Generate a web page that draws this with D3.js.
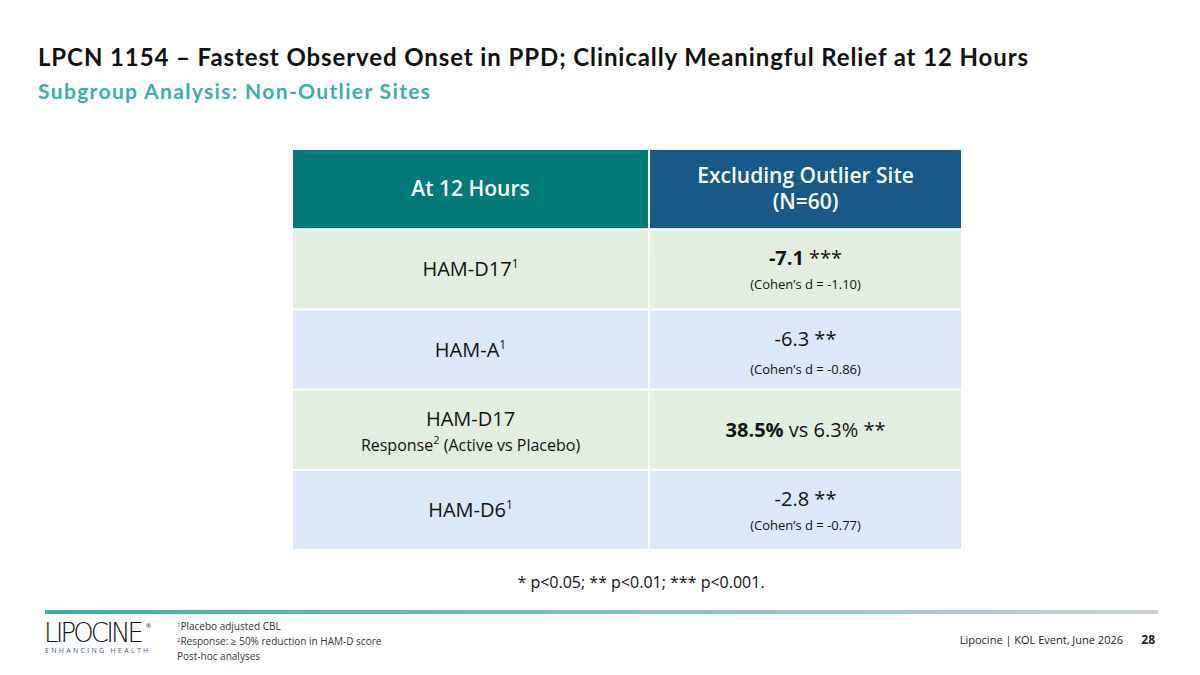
<!DOCTYPE html>
<html><head><meta charset="utf-8">
<script src="https://cdn.jsdelivr.net/npm/d3@7"></script>
<style>body{margin:0;background:#fff}svg{display:block;font-family:"Open Sans","Noto Sans",sans-serif}</style>
</head><body><svg id="slide" width="1200" height="675"></svg>
<script>
const svg = d3.select("#slide");

const HEADERS = ["At 12 Hours", "Excluding Outlier Site|(N=60)"];
const MEASURES = ["HAM-D17", "HAM-A", "HAM-D17", "HAM-D6"];
const MEASURE_SUP = ["1", "1", "", "1"];
const MEASURE_SUB = ["", "", "Response", ""];
const VALUES = ["-7.1", "-6.3", "38.5%", "-2.8"];
const VALUE_BOLD = [true, false, true, false];
const VALUE_TAIL = [" ***", " **", " vs 6.3% **", " **"];
const COHENS_D = ["-1.10", "-0.86", null, "-0.77"];

const HEADER_FILL = ["#007b78", "#175a89"];
const ROW_FILL = ["#e2eee0", "#dae8f8"];
const COL_EDGES = [0, 0.533, 1];

svg.append("text").attr("x", 38).attr("y", 66).attr("font-size", 24).attr("font-weight", 700)
  .attr("fill", "#111").attr("font-family", "Lato, sans-serif").attr("textLength", 990)
  .text("LPCN 1154 – Fastest Observed Onset in PPD; Clinically Meaningful Relief at 12 Hours");
svg.append("text").attr("x", 38).attr("y", 99).attr("font-size", 21).attr("font-weight", 700)
  .attr("fill", "#3aafa9").attr("font-family", "Lato, sans-serif").attr("textLength", 392)
  .text("Subgroup Analysis: Non-Outlier Sites");

const x = d3.scaleLinear().domain([0, 1]).range([293, 961]);
const colX = c => x(COL_EDGES[c]) + (c ? 1 : 0);
const colW = c => x(COL_EDGES[c + 1]) - x(COL_EDGES[c]) - 1;
const colC = c => colX(c) + colW(c) / 2;
const y = d3.scaleBand().domain(d3.range(5)).range([150, 549]).paddingInner(0.025);

const g = svg.append("g");
HEADERS.forEach((h, i) => {
  g.append("rect").attr("x", colX(i)).attr("y", y(0)).attr("width", colW(i)).attr("height", y.bandwidth()).attr("fill", HEADER_FILL[i]);
  const lines = h.split("|");
  const cy = y(0) + y.bandwidth() / 2;
  lines.forEach((l, k) => {
    g.append("text").attr("x", colC(i))
      .attr("y", cy + (k - (lines.length - 1) / 2) * 26 + 7)
      .attr("text-anchor", "middle").attr("fill", "#fff").attr("font-size", 21).attr("font-weight", 600).text(l);
  });
});

MEASURES.forEach((m, r) => {
  const top = y(r + 1), cy = top + y.bandwidth() / 2, fill = ROW_FILL[r % 2];
  [0, 1].forEach(c => g.append("rect").attr("x", colX(c)).attr("y", top).attr("width", colW(c)).attr("height", y.bandwidth()).attr("fill", fill));
  const lx = colC(0);
  const t = g.append("text").attr("x", lx).attr("y", MEASURE_SUB[r] ? cy - 4 : cy + 7)
    .attr("text-anchor", "middle").attr("font-size", 20).attr("fill", "#111");
  t.append("tspan").text(m);
  if (MEASURE_SUP[r]) t.append("tspan").attr("font-size", 12).attr("dy", -8).text(MEASURE_SUP[r]);
  if (MEASURE_SUB[r]) {
    const s = g.append("text").attr("x", lx).attr("y", cy + 21).attr("text-anchor", "middle").attr("font-size", 16).attr("fill", "#111");
    s.append("tspan").text(MEASURE_SUB[r]);
    s.append("tspan").attr("font-size", 11).attr("dy", -7).text("2");
    s.append("tspan").attr("dy", 7).text(" (Active vs Placebo)");
  }
  const vx = colC(1);
  const v = g.append("text").attr("x", vx).attr("y", COHENS_D[r] ? cy - 4 : cy + 7)
    .attr("text-anchor", "middle").attr("font-size", 20).attr("fill", "#111");
  v.append("tspan").attr("font-weight", VALUE_BOLD[r] ? 700 : 400).text(VALUES[r]);
  v.append("tspan").text(VALUE_TAIL[r]);
  if (COHENS_D[r]) g.append("text").attr("x", vx).attr("y", cy + (r === 1 ? 24 : 20)).attr("text-anchor", "middle")
    .attr("font-size", 13).attr("fill", "#111").text(`(Cohen’s d = ${COHENS_D[r]})`);
});

svg.append("text").attr("x", 641).attr("y", 588).attr("text-anchor", "middle").attr("font-size", 16).attr("fill", "#111")
  .text("* p<0.05; ** p<0.01; *** p<0.001.");

const grad = svg.append("defs").append("linearGradient").attr("id", "fl");
grad.append("stop").attr("offset", "0%").attr("stop-color", "#3aafa9");
grad.append("stop").attr("offset", "100%").attr("stop-color", "#c8d0d4");
svg.append("rect").attr("x", 45).attr("y", 610).attr("width", 1113).attr("height", 4).attr("fill", "url(#fl)");

svg.append("text").attr("x", 44).attr("y", 642).attr("font-size", 26).attr("fill", "#111").attr("font-weight", 300)
  .attr("textLength", 100).attr("font-family", "'DejaVu Sans', sans-serif").text("LIPOCINE");
svg.append("text").attr("x", 146).attr("y", 628).attr("font-size", 6).attr("fill", "#111").text("®");
svg.append("text").attr("x", 45).attr("y", 653).attr("font-size", 7).attr("fill", "#2b5d8c").attr("letter-spacing", 2.3).text("ENHANCING HEALTH");

const notes = [["1", "Placebo adjusted CBL"], ["2", "Response: ≥ 50% reduction in HAM-D score"], ["", "Post-hoc analyses"]];
notes.forEach((n, i) => {
  const t = svg.append("text").attr("x", 177).attr("y", 630 + i * 15).attr("font-size", 10).attr("fill", "#333");
  if (n[0]) t.append("tspan").attr("font-size", 6).attr("dy", -3).text(n[0]);
  t.append("tspan").attr("dy", n[0] ? 3 : 0).text(n[1]);
});
svg.append("text").attr("x", 1123).attr("y", 644).attr("text-anchor", "end").attr("font-size", 11).attr("fill", "#222").text("Lipocine | KOL Event, June 2026");
svg.append("text").attr("x", 1155).attr("y", 644).attr("text-anchor", "end").attr("font-size", 12).attr("font-weight", 700).attr("fill", "#222").text("28");
</script></body></html>
